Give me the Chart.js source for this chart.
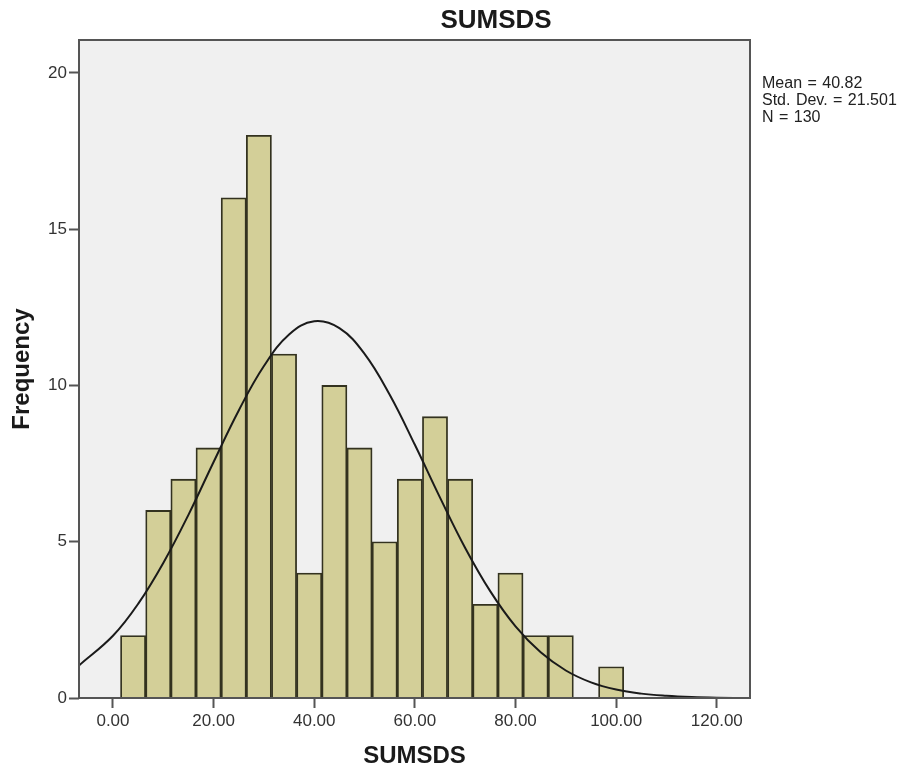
<!DOCTYPE html>
<html>
<head>
<meta charset="utf-8">
<script src="https://cdn.jsdelivr.net/npm/chart.js@4"></script>
<style>
  body { margin: 0; background: #fff; }
  #wrap { position: relative; width: 909px; height: 773px; font-family: "Liberation Sans", Arial, sans-serif; }
  #title { position: absolute; left: 396px; top: 6px; width: 200px; text-align: center; font-weight: bold; font-size: 26px; line-height: 26px; color: #1a1a1a; }
  #stats { position: absolute; left: 762px; top: 74px; font-size: 16px; line-height: 17px; color: #222; white-space: nowrap; word-spacing: 1px; }
</style>
</head>
<body>
<div id="wrap">
  <canvas id="histChart" width="909" height="773"></canvas>
  <div id="title">SUMSDS</div>
  <div id="stats">Mean = 40.82<br>Std. Dev. = 21.501<br>N = 130</div>
</div>
<script>
// histogram bins (centres) and counts
const binCenters = [4, 9, 14, 19, 24, 29, 34, 39, 44, 49, 54, 59, 64, 69, 74, 79, 84, 89, 94, 99]
const counts = [2, 6, 7, 8, 16, 18, 11, 4, 10, 8, 5, 7, 9, 7, 3, 4, 2, 2, 0, 1]

// normal curve overlay
const curveX = [-6.75, 0, 5, 10, 15, 20, 25, 30, 35, 40, 45, 50, 55, 60, 65, 70, 75, 80, 85, 90, 95, 100, 105, 110, 115, 120, 126.6]
const curveY = [1.04, 1.99, 3.01, 4.32, 5.86, 7.55, 9.20, 10.62, 11.63, 12.05, 11.83, 11.01, 9.70, 8.10, 6.41, 4.80, 3.41, 2.29, 1.46, 0.88, 0.50, 0.27, 0.14, 0.07, 0.03, 0.01, 0.00]

const xTicks = [0, 20, 40, 60, 80, 100, 120]
const yTicks = [0, 5, 10, 15, 20]

const tickFont = { family: '"Liberation Sans", Arial, sans-serif', size: 17 }
const titleFont = { family: '"Liberation Sans", Arial, sans-serif', size: 24, weight: 'bold', lineHeight: 1.2 }

// plot background + frame, SPSS style
const plotFrame = {
  id: 'plotFrame',
  beforeDraw(chart) {
    const { ctx, chartArea: a } = chart
    ctx.save(); ctx.fillStyle = '#f0f0f0'; ctx.fillRect(a.left, a.top, a.right - a.left, a.bottom - a.top); ctx.restore()
  },
  afterDraw(chart) {
    const { ctx, chartArea: a } = chart
    ctx.save(); ctx.strokeStyle = '#555'; ctx.lineWidth = 2
    ctx.strokeRect(a.left, a.top, a.right - a.left, a.bottom - a.top); ctx.restore()
  }
}

new Chart(document.getElementById('histChart').getContext('2d'), {
  data: {
    datasets: [
      {
        type: 'line', order: 0,
        data: curveX.map((x, i) => ({ x, y: curveY[i] })),
        borderColor: '#1a1a1a', borderWidth: 2, pointRadius: 0, tension: 0.4, fill: false
      },
      {
        type: 'bar', order: 1,
        data: binCenters.map((x, i) => ({ x, y: counts[i] })),
        backgroundColor: '#d3cf98', borderColor: '#33321f', borderWidth: 1.8,
        categoryPercentage: 1.0, barPercentage: 1.0
      }
    ]
  },
  options: {
    responsive: false, animation: false, devicePixelRatio: 1,
    layout: { padding: { top: 40, right: 159, left: 0, bottom: 0 } },
    plugins: { legend: { display: false }, tooltip: { enabled: false } },
    scales: {
      x: {
        type: 'linear', min: -6.75, max: 126.6, offset: false,
        afterFit: s => { s.height = 75 },
        afterBuildTicks: s => { s.ticks = xTicks.map(v => ({ value: v })) },
        ticks: { stepSize: 20, includeBounds: false, autoSkip: false, maxRotation: 0, padding: 3, color: '#333', font: tickFont, callback: v => Number(v).toFixed(2) },
        grid: { offset: false, drawOnChartArea: false, drawTicks: true, tickLength: 10, tickColor: '#555', tickWidth: 2 },
        border: { display: false },
        title: { display: true, text: 'SUMSDS', color: '#1a1a1a', font: titleFont, padding: { top: 0, bottom: 2 } }
      },
      y: {
        type: 'linear', min: 0, max: 21.05,
        afterFit: s => { s.width = 79 },
        afterBuildTicks: s => { s.ticks = yTicks.map(v => ({ value: v })) },
        ticks: { stepSize: 5, includeBounds: false, padding: 2, color: '#333', font: tickFont },
        grid: { drawOnChartArea: false, drawTicks: true, tickLength: 10, tickColor: '#555', tickWidth: 2 },
        border: { display: false },
        title: { display: true, text: 'Frequency', color: '#1a1a1a', font: titleFont, padding: { top: 8, bottom: 0 } }
      }
    }
  },
  plugins: [plotFrame]
})
</script>
</body>
</html>
